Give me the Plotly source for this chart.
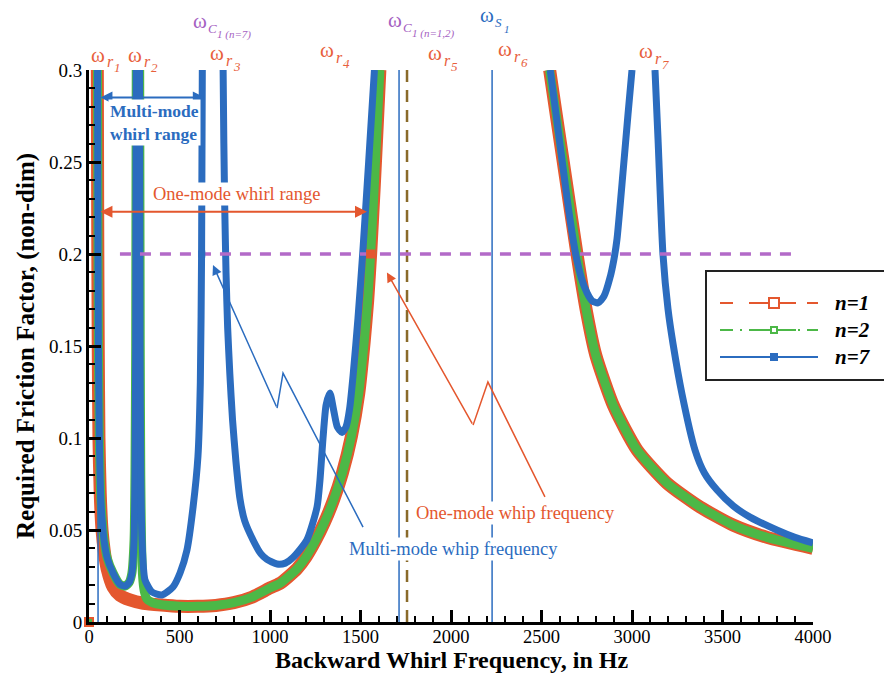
import plotly.graph_objects as go

# ---------------- data (Hz, required friction factor) ----------------
# n = 1 : branch between w_r1 and w_r4, and branch from w_r6 upward
n1_a_hz = [46, 48, 51, 55, 62, 72, 85, 100, 133, 171, 226, 300, 400, 500, 600, 700,
           800, 900, 1000, 1055, 1100, 1150, 1200, 1250, 1300, 1350, 1400, 1450,
           1490, 1520, 1540, 1556, 1575, 1590, 1607]
n1_a_f = [0.30, 0.22, 0.15, 0.10, 0.07, 0.05, 0.038, 0.029, 0.019, 0.0145, 0.012,
          0.0102, 0.0092, 0.0085, 0.0085, 0.009, 0.0105, 0.0135, 0.0185, 0.021,
          0.0245, 0.029, 0.0355, 0.044, 0.054, 0.066, 0.081, 0.101, 0.124, 0.152,
          0.175, 0.2, 0.235, 0.265, 0.30]
n1_b_hz = [2545, 2590, 2640, 2696, 2750, 2800, 2900, 3028, 3193, 3376, 3558, 3746, 4000]
n1_b_f = [0.30, 0.27, 0.237, 0.2, 0.168, 0.145, 0.117, 0.0935, 0.0755, 0.0625, 0.0527,
          0.046, 0.040]

# n = 2 : w_r1 -> w_r2, w_r2 -> w_r4, w_r6 -> 4000 Hz
n2_a_hz = [47, 49, 52, 57, 64, 73, 83, 100, 133, 170, 199, 222, 237, 249, 254, 258, 261]
n2_a_f = [0.30, 0.22, 0.15, 0.10, 0.07, 0.055, 0.0446, 0.035, 0.0266, 0.0205, 0.0195,
          0.0215, 0.0266, 0.0446, 0.081, 0.15, 0.30]
n2_b_hz = [280, 283, 286, 290, 296, 305, 320, 350, 409, 500, 600, 700, 800, 900, 1000,
           1055, 1100, 1150, 1200, 1250, 1300, 1350, 1400, 1450, 1490, 1520, 1540,
           1556, 1575, 1590, 1607]
n2_b_f = [0.30, 0.15, 0.08, 0.045, 0.025, 0.017, 0.0125, 0.0105, 0.0092, 0.0086,
          0.0085, 0.009, 0.0105, 0.0135, 0.0185, 0.021, 0.0245, 0.029, 0.0355, 0.044,
          0.054, 0.066, 0.081, 0.101, 0.124, 0.152, 0.175, 0.2, 0.235, 0.265, 0.30]
n2_c_hz = [2545, 2590, 2640, 2696, 2750, 2800, 2900, 3028, 3193, 3376, 3558, 3746, 4000]
n2_c_f = [0.30, 0.27, 0.237, 0.2, 0.168, 0.145, 0.117, 0.0935, 0.0755, 0.0625, 0.0527,
          0.046, 0.040]

# n = 7 : five branches separated by the resonances
n7_a_hz = [47, 49, 52, 57, 64, 73, 83, 100, 133, 170, 199, 222, 237, 249, 254, 258, 261]
n7_a_f = [0.30, 0.22, 0.15, 0.10, 0.07, 0.055, 0.0446, 0.035, 0.0266, 0.0205, 0.0195,
          0.0215, 0.0266, 0.0446, 0.081, 0.15, 0.30]
n7_b_hz = [279, 282, 286, 293, 309, 348, 403, 464, 503, 541, 575, 602, 615, 622, 626]
n7_b_f = [0.30, 0.15, 0.081, 0.0446, 0.023, 0.0163, 0.0147, 0.019, 0.0266, 0.039,
          0.0625, 0.09, 0.13, 0.20, 0.30]
n7_c_hz = [741, 745, 750, 757, 766, 778, 793, 812, 834, 860, 906, 950, 983, 1039, 1085,
           1127, 1204, 1260, 1276, 1293, 1310, 1331, 1352, 1372, 1398, 1420, 1440, 1460,
           1486, 1512, 1545, 1577]
n7_c_f = [0.30, 0.26, 0.225, 0.19, 0.16, 0.135, 0.11, 0.087, 0.067, 0.055, 0.0446, 0.037,
          0.034, 0.0315, 0.032, 0.035, 0.0446, 0.0625, 0.077, 0.10, 0.118, 0.1245, 0.115,
          0.106, 0.103, 0.106, 0.116, 0.135, 0.165, 0.2, 0.25, 0.30]
n7_d_hz = [2548, 2575, 2619, 2650, 2685, 2720, 2751, 2780, 2812, 2845, 2878, 2900, 2917,
           2950, 2978, 3000]
n7_d_f = [0.30, 0.28, 0.247, 0.224, 0.202, 0.187, 0.179, 0.1745, 0.1734, 0.177, 0.187,
          0.197, 0.208, 0.244, 0.276, 0.30]
n7_e_hz = [3127, 3144, 3171, 3199, 3227, 3276, 3348, 3400, 3470, 3560, 3652, 3800, 3900, 4000]
n7_e_f = [0.30, 0.262, 0.2, 0.17, 0.151, 0.124, 0.0935, 0.081, 0.0717, 0.063, 0.057,
          0.050, 0.046, 0.043]

# characteristic frequencies (Hz)
w_r1_line = 50
w_c1_n12 = 1713
w_c1_n12_b = 1757
w_s1 = 2227
f_limit = 0.3
f_available = 0.2
f_available_span = [171, 3890]

# whip points on the available-friction line
whip_one_hz, whip_one_f = [1556], [0.2]
whip_multi_hz, whip_multi_f = [623], [0.2]
origin_hz, origin_f = [0], [0]

x_ticks = [0, 500, 1000, 1500, 2000, 2500, 3000, 3500, 4000]
y_ticks = [0, 0.05, 0.1, 0.15, 0.2, 0.25, 0.3]

# frequency labels above the frame: (Hz of the omega, height as frame fraction,
# subscript, second-level subscript, colour key)
freq_labels = [
    (47, 1.028, "r", "1", "r"),
    (254, 1.028, "r", "2", "r"),
    (613, 1.089, "C", "1 (n=7)", "c"),
    (707, 1.030, "r", "3", "r"),
    (1315, 1.036, "r", "4", "r"),
    (1691, 1.091, "C", "1 (n=1,2)", "c"),
    (1912, 1.030, "r", "5", "r"),
    (2199, 1.100, "S", "1", "s"),
    (2298, 1.038, "r", "6", "r"),
    (3075, 1.034, "r", "7", "r"),
]

RED = "#e4572e"
GREEN = "#4cb847"
BLUE = "#2b6cbf"
PURPLE = "#b36ac8"
LRED = "#e8603c"
LPURPLE = "#a561c2"
FONT = "Liberation Serif"
label_colors = {"r": LRED, "c": LPURPLE, "s": BLUE}


def join(*branches):
    xs, ys = [], []
    for bx, by in branches:
        xs += list(bx) + [None]
        ys += list(by) + [None]
    return xs, ys


fig = go.Figure()

curves = [
    ("n=1", join((n1_a_hz, n1_a_f), (n1_b_hz, n1_b_f)), RED, 13),
    ("n=2", join((n2_a_hz, n2_a_f), (n2_b_hz, n2_b_f), (n2_c_hz, n2_c_f)), GREEN, 9),
    ("n=7", join((n7_a_hz, n7_a_f), (n7_b_hz, n7_b_f), (n7_c_hz, n7_c_f),
                 (n7_d_hz, n7_d_f), (n7_e_hz, n7_e_f)), BLUE, 7),
]
for name, (xs, ys), col, w in curves:
    fig.add_trace(go.Scatter(x=xs, y=ys, mode="lines", name=name, showlegend=False,
                             line=dict(color=col, width=w, shape="spline", smoothing=0.6),
                             cliponaxis=False, connectgaps=False))

# vertical reference lines
for xv in [w_r1_line, w_c1_n12, w_s1]:
    fig.add_trace(go.Scatter(x=[xv, xv], y=[0, f_limit], mode="lines", showlegend=False,
                             line=dict(color=BLUE, width=1.5)))
fig.add_trace(go.Scatter(x=[w_c1_n12_b, w_c1_n12_b], y=[0, f_limit], mode="lines",
                         showlegend=False, line=dict(color=GREEN, width=2, dash="2px,8px")))
fig.add_trace(go.Scatter(x=[w_c1_n12_b, w_c1_n12_b], y=[0, f_limit], mode="lines",
                         showlegend=False, line=dict(color="#8a6a2a", width=2.5, dash="12px,8px")))

# available friction level
fig.add_trace(go.Scatter(x=f_available_span, y=[f_available, f_available], mode="lines",
                         showlegend=False, line=dict(color=PURPLE, width=3.5, dash="11px,9px")))

# whip points and origin point
fig.add_trace(go.Scatter(x=whip_one_hz, y=whip_one_f, mode="markers", showlegend=False,
                         marker=dict(color=RED, size=9, symbol="square")))
fig.add_trace(go.Scatter(x=whip_multi_hz, y=whip_multi_f, mode="markers", showlegend=False,
                         marker=dict(color=BLUE, size=7, symbol="square")))
fig.add_trace(go.Scatter(x=origin_hz, y=origin_f, mode="markers", showlegend=False,
                         cliponaxis=False,
                         marker=dict(color=GREEN, size=8, symbol="square",
                                     line=dict(color=RED, width=2))))

ann = []


def text(x, y, s, color, size=17, xanchor="center", yanchor="middle", xref="x", yref="y",
         align="center", bg=None, xshift=0, yshift=0, angle=0, pad=1):
    d = dict(x=x, y=y, xref=xref, yref=yref, text=s, showarrow=False,
             xanchor=xanchor, yanchor=yanchor, align=align, xshift=xshift, yshift=yshift,
             textangle=angle, borderpad=pad, font=dict(family=FONT, size=size, color=color))
    if bg:
        d["bgcolor"] = bg
    ann.append(d)


# omega symbol with a two-level italic subscript
for hz, yp, sub, subsub, ck in freq_labels:
    col = label_colors[ck]
    text(hz, yp, "ω", col, size=21, yref="paper")
    if sub == "r":
        text(hz, yp, "<i>r</i>", col, size=16, xanchor="left", yref="paper",
             xshift=7, yshift=-7)
        text(hz, yp, f"<i>{subsub}</i>", col, size=13, xanchor="left", yref="paper",
             xshift=14, yshift=-13)
    else:
        text(hz, yp, f"<i>{sub}</i>", col, size=13, xanchor="left", yref="paper",
             xshift=6, yshift=-8)
        text(hz, yp, f"<i>{subsub}</i>", col, size=11, xanchor="left", yref="paper",
             xshift=15, yshift=-14)

# whirl ranges
ann.append(dict(x=640, y=0.285, ax=55, ay=0.285, xref="x", yref="y", axref="x", ayref="y",
                text="", showarrow=True, arrowside="end+start", arrowhead=2,
                arrowsize=1.2, arrowwidth=2, arrowcolor=BLUE))
ann.append(dict(x=1536, y=0.223, ax=55, ay=0.223, xref="x", yref="y", axref="x", ayref="y",
                text="", showarrow=True, arrowside="end+start", arrowhead=2,
                arrowsize=1.2, arrowwidth=2, arrowcolor=RED))
text(103, 0.2715, "<b>Multi-mode<br>whirl range</b>", BLUE, size=17.5, xanchor="left",
     align="left", bg="white")
text(815, 0.2325, "One-mode whirl range", RED, size=18.5, bg="white")

# whip-frequency pointers
shapes = [
    dict(type="path", xref="x", yref="y", path="M 1514,0.0516 L 1072,0.1353 L 1039,0.1163",
         line=dict(color=BLUE, width=1.5)),
    dict(type="path", xref="x", yref="y", path="M 2519,0.068 L 2204,0.1304 L 2122,0.107",
         line=dict(color=RED, width=1.5)),
]
ann.append(dict(x=685, y=0.194, ax=1039, ay=0.1163, xref="x", yref="y", axref="x",
                ayref="y", text="", showarrow=True, arrowhead=2, arrowsize=1.3,
                arrowwidth=1.5, arrowcolor=BLUE))
ann.append(dict(x=1646, y=0.190, ax=2122, ay=0.107, xref="x", yref="y", axref="x",
                ayref="y", text="", showarrow=True, arrowhead=2, arrowsize=1.3,
                arrowwidth=1.5, arrowcolor=RED))
text(2015, 0.0395, "Multi-mode whip frequency", BLUE, size=18.5, bg="white")
text(2355, 0.059, "One-mode whip frequency", RED, size=18.5, bg="white")


# legend box (pixel positions converted to paper fractions)
def px_x(p):
    return (p - 89) / 724


def px_y(p):
    return (622 - p) / 552


shapes.append(dict(type="rect", xref="paper", yref="paper", x0=px_x(706), x1=px_x(900),
                   y0=px_y(380), y1=px_y(271), line=dict(color="#222", width=2),
                   fillcolor="white", layer="above"))
legend_rows = [("n=1", RED, "13px,16px", 303, 10, False),
               ("n=2", GREEN, "13px,7px,2px,7px", 330, 6, False),
               ("n=7", BLUE, "solid", 357, 6, True)]
for lab, col, dsh, py, msz, filled in legend_rows:
    shapes.append(dict(type="line", xref="paper", yref="paper", x0=px_x(720), x1=px_x(818),
                       y0=px_y(py), y1=px_y(py), line=dict(color=col, width=2, dash=dsh),
                       layer="above"))
    shapes.append(dict(type="line", xref="paper", yref="paper", x0=px_x(752), x1=px_x(796),
                       y0=px_y(py), y1=px_y(py), line=dict(color=col, width=2), layer="above"))
    h = msz / 2
    shapes.append(dict(type="rect", xref="paper", yref="paper", x0=px_x(774 - h),
                       x1=px_x(774 + h), y0=px_y(py + h), y1=px_y(py - h),
                       line=dict(color=col, width=2),
                       fillcolor=col if filled else "white", layer="above"))
    text(px_x(833), px_y(py), f"<b><i>{lab}</i></b>", "black", size=21, xanchor="left",
         xref="paper", yref="paper")

# axis titles
text(0.5, px_y(674), "<b>Backward Whirl Frequency, in Hz</b>", "black", size=24,
     xref="paper", yref="paper", yanchor="bottom", pad=0)
text(px_x(26), 0.5, "<b>Required Friction Factor, (non-dim)</b>", "black", size=25,
     xref="paper", yref="paper", angle=-90)

axis_common = dict(showline=True, linewidth=3, linecolor="black", showgrid=False,
                   zeroline=False, ticks="inside", ticklen=12, tickwidth=3, tickcolor="black",
                   mirror=False, automargin=False)

fig.update_layout(
    width=884, height=674,
    margin=dict(l=89, r=71, t=70, b=52),
    paper_bgcolor="white", plot_bgcolor="white",
    showlegend=False,
    xaxis=dict(range=[0, 4000], tickvals=x_ticks, **axis_common, ticklabelstandoff=-4,
               tickfont=dict(family=FONT, size=18.5, color="black"),
               minor=dict(dtick=100, ticks="inside", ticklen=6, tickwidth=2, tickcolor="black")),
    yaxis=dict(range=[0, 0.3], tickvals=y_ticks, **axis_common,
               tickfont=dict(family=FONT, size=19, color="black"),
               minor=dict(dtick=0.01, ticks="inside", ticklen=6, tickwidth=2, tickcolor="black")),
    annotations=ann,
    shapes=shapes,
)

fig.write_html("out.html")
